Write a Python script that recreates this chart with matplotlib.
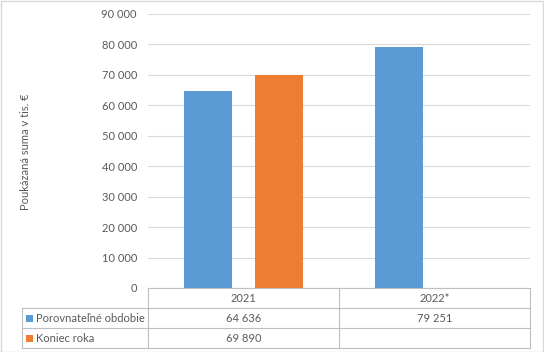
import matplotlib
matplotlib.use("Agg")
import matplotlib.pyplot as plt
from matplotlib.patches import Rectangle
from matplotlib.transforms import blended_transform_factory

categories = ["2021", "2022*"]
series_names = ["Porovnateľné obdobie", "Koniec roka"]
porovnatelne = [64636, 79251]
koniec_roka = [69890, None]
y_ticks = [0, 10000, 20000, 30000, 40000, 50000, 60000, 70000, 80000, 90000]

BLUE = "#5B9BD5"
ORANGE = "#ED7D31"
TXT = "#595959"
GRID = "#D9D9D9"
TBL = "#BFBFBF"
FONT = "Lato"


def fmt(v):
    return f"{v:,}".replace(",", " ")


W, H = 544, 352
fig = plt.figure(figsize=(W / 100, H / 100), dpi=100)
# plot area in pixels: x 148..530, y 14..288
ax = fig.add_axes([148 / W, (H - 288) / H, (530 - 148) / W, (288 - 14) / H])

x = list(range(len(categories)))
bw = 0.25
off = 0.1875
ax.bar([i - off for i in x], porovnatelne, width=bw, color=BLUE, zorder=3)
kx = [i + off for i, v in zip(x, koniec_roka) if v is not None]
kv = [v for v in koniec_roka if v is not None]
ax.bar(kx, kv, width=bw, color=ORANGE, zorder=3)

ax.set_xlim(-0.5, len(categories) - 0.5)
ax.set_ylim(0, 90000)
ax.set_yticks(y_ticks)
ax.set_yticklabels([fmt(t) for t in y_ticks], fontsize=8, color=TXT, family=FONT)
ax.tick_params(axis="y", length=0, pad=8)
ax.set_xticks([])
ax.grid(axis="y", color=GRID, linewidth=0.8, zorder=0)
for s in ["top", "right", "left"]:
    ax.spines[s].set_visible(False)
ax.spines["bottom"].set_color(TBL)
ax.spines["bottom"].set_linewidth(0.8)

fig.text(26 / W, 1 - 152 / H, "Poukázaná suma v tis. €", rotation=90,
         ha="center", va="center", fontsize=8, color=TXT, family=FONT)

# data table below the axis
tr = blended_transform_factory(ax.transData, ax.transAxes)
ah = 288 - 14
row = 20 / ah
left = -0.5 - 126 / 191
right = len(categories) - 0.5
line_kw = dict(color=TBL, linewidth=0.8, transform=tr, clip_on=False)

for r in range(1, 4):
    ax.plot([left, right], [-r * row, -r * row], **line_kw)
for xb in [-0.5 + i for i in range(len(categories) + 1)]:
    ax.plot([xb, xb], [0, -3 * row], **line_kw)
ax.plot([left, left], [-row, -3 * row], **line_kw)

for i, c in enumerate(categories):
    ax.text(i, -0.5 * row, c, ha="center", va="center", fontsize=8,
            color=TXT, family=FONT, transform=tr)

rows = [porovnatelne, koniec_roka]
colors = [BLUE, ORANGE]
for r, (name, vals, col) in enumerate(zip(series_names, rows, colors)):
    yc = -(r + 1.5) * row
    ax.add_patch(Rectangle((left + 4 / 191, yc - 3.5 / ah), 7 / 191, 7 / ah,
                           facecolor=col, edgecolor="none", transform=tr, clip_on=False))
    ax.text(left + 14 / 191, yc, name, ha="left", va="center", fontsize=8,
            color=TXT, family=FONT, transform=tr)
    for i, v in enumerate(vals):
        if v is not None:
            ax.text(i, yc, fmt(v), ha="center", va="center", fontsize=8,
                    color=TXT, family=FONT, transform=tr)

fig.patches.append(Rectangle((0.5 / W, 0.5 / H), 1 - 1.5 / W, 1 - 1.5 / H, fill=False,
                             edgecolor=GRID, linewidth=1, transform=fig.transFigure))

fig.savefig("out.png", dpi=100)
